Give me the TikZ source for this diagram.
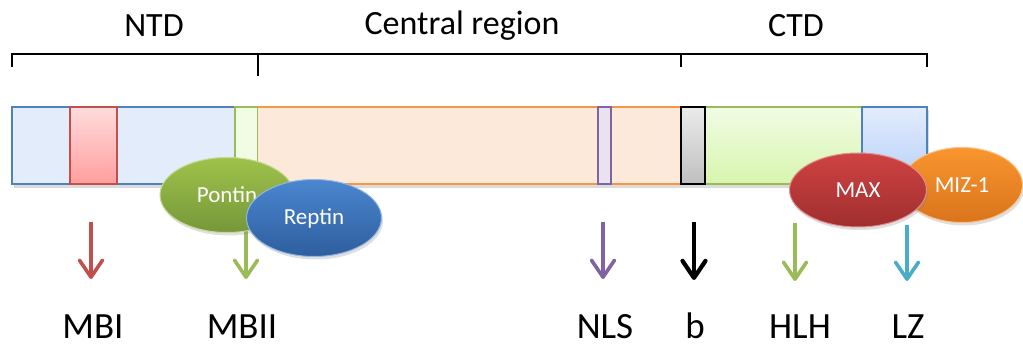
\documentclass[tikz,border=0pt]{standalone}
\usepackage{fontspec}
\setmainfont{Carlito}
\usetikzlibrary{arrows.meta,shapes.geometric,shadows}

% Office-style palette
\definecolor{ntdblue}{HTML}{4F81BD}
\definecolor{ntdfill}{HTML}{E2ECFA}
\definecolor{mbired}{HTML}{C0504D}
\definecolor{mbigreen}{HTML}{9BBB59}
\definecolor{cenorange}{HTML}{F79646}
\definecolor{cenfill}{HTML}{FDE9DA}
\definecolor{nlspurple}{HTML}{8064A2}
\definecolor{lzcyan}{HTML}{4BACC6}
% gradient stops
\definecolor{hlhtop}{HTML}{F1FCE4}
\definecolor{hlhbot}{HTML}{D7F5AE}
\definecolor{lztop}{HTML}{E2ECFD}
\definecolor{lzbot}{HTML}{B7D0F8}
\definecolor{pontop}{HTML}{9FC24A}
\definecolor{ponbot}{HTML}{76973A}
\definecolor{reptop}{HTML}{4A86CF}
\definecolor{repbot}{HTML}{2E5E9E}
\definecolor{maxtop}{HTML}{CF4343}
\definecolor{maxbot}{HTML}{A02E2E}
\definecolor{miztop}{HTML}{F9962E}
\definecolor{mizbot}{HTML}{D9741C}

\tikzset{
  seg/.style={line width=1.5pt},
  headline/.style={line width=1.6pt},
  domlabel/.style={font=\fontsize{34}{40}\selectfont, inner sep=0pt},
  motiflabel/.style={font=\fontsize{37}{44}\selectfont, inner sep=0pt, anchor=base},
  motifarrow/.style={line width=3.6pt, -{Straight Barb[length=17pt,width=23pt,round]}},
  partner/.style={ellipse, inner sep=0pt, text=white,
    font=\fontsize{23}{28}\selectfont, line width=1pt,
    drop shadow={opacity=0.25, shadow xshift=1.5pt, shadow yshift=-3pt}},
}

\begin{document}
\begin{tikzpicture}[x=1pt,y=-1pt]
\useasboundingbox (0,0) rectangle (1023,347);

% domain bracket and titles
\draw[headline] (12,67) -- (12,54) -- (927,54) -- (927,67);
\draw[headline] (258,54) -- (258,76);
\draw[headline] (681,54) -- (681,67);
\node[domlabel] (ntd) at (154,26) {NTD};
\node[domlabel] (central) at (462,26) {Central region};
\node[domlabel] (ctd) at (796,26) {CTD};

% protein bar
\fill[black, opacity=0.14] (14,110) rectangle (929,188);
\fill[ntdfill] (12,107) rectangle (258,184);
\draw[seg, ntdblue] (258,107) -- (12,107) -- (12,184) -- (258,184);
\draw[seg, mbired, top color=red!14, bottom color=red!38] (70,107) rectangle (117,184);
\draw[seg, mbigreen, fill=hlhtop] (235,107) rectangle (258,184);
\fill[cenfill] (258,107) rectangle (681,184);
\draw[seg, cenorange] (258,107) -- (681,107);
\draw[seg, cenorange] (258,184) -- (681,184);
\draw[seg, nlspurple, fill=nlspurple!18] (598,107) rectangle (611,184);
\draw[seg, mbigreen, top color=hlhtop, bottom color=hlhbot] (705,107) rectangle (862,184);
\draw[seg, ntdblue, top color=lztop, bottom color=lzbot] (862,107) rectangle (927,184);
\draw[seg, black, top color=black!8, bottom color=black!25] (681,107) rectangle (705,184);

% motif labels
\node[motiflabel] (mbi)  at (93,338)  {MBI};
\node[motiflabel] (mbii) at (242,338) {MBII};
\node[motiflabel] (nls)  at (605,338) {NLS};
\node[motiflabel] (b)    at (695,338) {b};
\node[motiflabel] (hlh)  at (800,338) {HLH};
\node[motiflabel] (lz)   at (908,338) {LZ};

% arrow start points
\coordinate (s1) at (91,222);
\coordinate (s2) at (246,222);
\coordinate (s3) at (603,222);
\coordinate (s4) at (694,222);
\coordinate (s5) at (795,223);
\coordinate (s6) at (907,225);

\draw[motifarrow, mbired]    (s1) -- (s1 |- 0,279);
\draw[motifarrow, mbigreen]  (s2) -- (s2 |- 0,279);
\draw[motifarrow, nlspurple] (s3) -- (s3 |- 0,279);
\draw[motifarrow, black, line width=4.2pt] (s4) -- (s4 |- 0,280);
\draw[motifarrow, mbigreen]  (s5) -- (s5 |- 0,281);
\draw[motifarrow, lzcyan]    (s6) -- (s6 |- 0,281);

% binding partners
\node[partner, minimum width=134pt, minimum height=75pt,
      draw=pontop!60!white, top color=pontop, bottom color=ponbot]
      (pontin) at (227,195) {Pontin};
\node[partner, minimum width=135pt, minimum height=77pt,
      draw=reptop!60!white, top color=reptop, bottom color=repbot]
      (reptin) at (314,218) {Reptin};
\node[partner, minimum width=121pt, minimum height=75pt,
      draw=miztop!60!white, top color=miztop, bottom color=mizbot]
      (miz) at (962,185) {MIZ-1};
\node[partner, minimum width=137pt, minimum height=74pt,
      draw=maxtop!60!white, top color=maxtop, bottom color=maxbot]
      (max) at (858,190) {MAX};
\end{tikzpicture}
\end{document}
